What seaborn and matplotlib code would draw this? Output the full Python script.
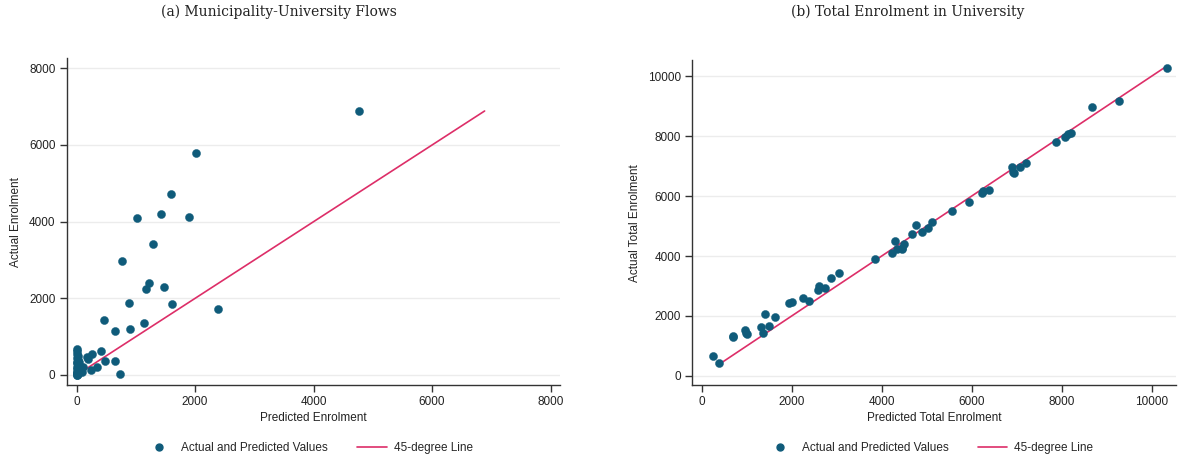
import matplotlib
matplotlib.use('Agg')
import matplotlib.pyplot as plt
from matplotlib.lines import Line2D
import numpy as np
import pandas as pd
import seaborn as sns

# Panel (a): municipality-university flows
flow_pred = [4759, 2019, 1586, 1012, 1428, 1895, 1293, 759, 1215, 1473, 1170, 877, 1614, 2390,
             455, 1142, 900, 652, 416, 258, 197, 472, 652, 337, 236, 736, 169, 112, 84,
             5, 10, 3, 15, 8, 20, 2, 12, 25, 6, 30, 4, 18, 9, 1, 14, 22, 7, 40, 35, 0]
flow_act = [6887, 5800, 4722, 4096, 4192, 4131, 3418, 2966, 2400, 2287, 2235, 1870, 1852, 1713,
            1443, 1357, 1209, 1157, 626, 556, 426, 374, 374, 200, 130, 18, 477, 217, 86,
            680, 620, 560, 500, 450, 400, 350, 300, 260, 220, 180, 150, 120, 90, 60, 40, 20, 10, 330, 250, 0]

# Panel (b): total enrolment in university
tot_pred = [258, 391, 702, 702, 969, 984, 999, 1311, 1356, 1400, 1489, 1622, 1948, 2007, 2244,
            2393, 2584, 2614, 2747, 2866, 3044, 3844, 4222, 4296, 4333, 4444, 4496, 4444, 4673,
            4762, 4889, 5036, 5111, 5569, 5933, 6222, 6259, 6384, 6896, 6924, 6940, 7073, 7207,
            7873, 8080, 8140, 8200, 8673, 9273, 10340]
tot_act = [667, 423, 1333, 1289, 1533, 1444, 1389, 1644, 1422, 2067, 1667, 1978, 2422, 2467, 2589,
           2511, 2867, 3000, 2944, 3256, 3422, 3889, 4111, 4511, 4222, 4233, 4400, 4256, 4733,
           5033, 4811, 4922, 5122, 5489, 5800, 6111, 6178, 6200, 6978, 6811, 6756, 6978, 7111,
           7800, 7956, 8067, 8089, 8956, 9177, 10267]

titles = ['(a) Municipality-University Flows', '(b) Total Enrolment in University']
xlabels = ['Predicted Enrolment', 'Predicted Total Enrolment']
ylabels = ['Actual Enrolment', 'Actual Total Enrolment']

dot_color = '#0f5b7a'
line_color = '#dd2e68'

sns.set_style('white')
plt.rcParams['font.family'] = ['Liberation Sans', 'DejaVu Sans']

fig = plt.figure(figsize=(11.9, 4.63), dpi=100)
ax1 = fig.add_axes([0.056, 0.1685, 0.4145, 0.7056])
ax2 = fig.add_axes([0.5815, 0.168, 0.4067, 0.702])

panels = [
    (ax1, flow_pred, flow_act, (-169, 8158), (-261, 8262), [0, 2000, 4000, 6000, 8000]),
    (ax2, tot_pred, tot_act, (-216, 10540), (-310, 10533), [0, 2000, 4000, 6000, 8000, 10000]),
]

title_x = [0.2345, 0.763]

for i, (ax, pred, act, xl, yl, ticks) in enumerate(panels):
    df = pd.DataFrame({'pred': pred, 'act': act})
    lo, hi = df['act'].min(), df['act'].max()
    line_df = pd.DataFrame({'x': [lo, hi], 'y': [lo, hi]})
    sns.lineplot(data=line_df, x='x', y='y', ax=ax, color=line_color, lw=1.2, zorder=2)
    sns.scatterplot(data=df, x='pred', y='act', ax=ax, color=dot_color, s=34,
                    edgecolor=dot_color, linewidth=0.3, zorder=3)
    ax.set_xlim(*xl)
    ax.set_ylim(*yl)
    ax.set_xticks(ticks)
    ax.set_yticks(ticks)
    ax.yaxis.grid(True, color='#ececec', lw=1)
    ax.set_axisbelow(True)
    for s in ['top', 'right']:
        ax.spines[s].set_visible(False)
    for s in ['left', 'bottom']:
        ax.spines[s].set_color('#333333')
        ax.spines[s].set_linewidth(1)
    ax.tick_params(axis='both', direction='out', length=5, width=1, color='#333333',
                   labelsize=8.5, labelcolor='#222222', pad=3)
    ax.tick_params(axis='both', left=True, bottom=True)
    ax.set_xlabel(xlabels[i], fontsize=8.5, color='#222222', labelpad=3)
    ax.set_ylabel(ylabels[i], fontsize=8.5, color='#222222', labelpad=5)

    pos = ax.get_position()
    cx = pos.x0 + pos.width / 2
    fig.text(title_x[i], 0.99, titles[i], ha='center', va='top',
             fontsize=10, family='DejaVu Serif', color='#222222')
    handles = [
        Line2D([], [], marker='o', ls='none', color=dot_color, markersize=5),
        Line2D([], [], color=line_color, lw=1.2),
    ]
    fig.legend(handles, ['Actual and Predicted Values', '45-degree Line'], ncol=2,
               loc='center', bbox_to_anchor=(cx - 0.004, 0.033), frameon=False, fontsize=8.5,
               columnspacing=2.5, handlelength=2.5, handletextpad=0.6)

fig.savefig('out.png', dpi=100)
